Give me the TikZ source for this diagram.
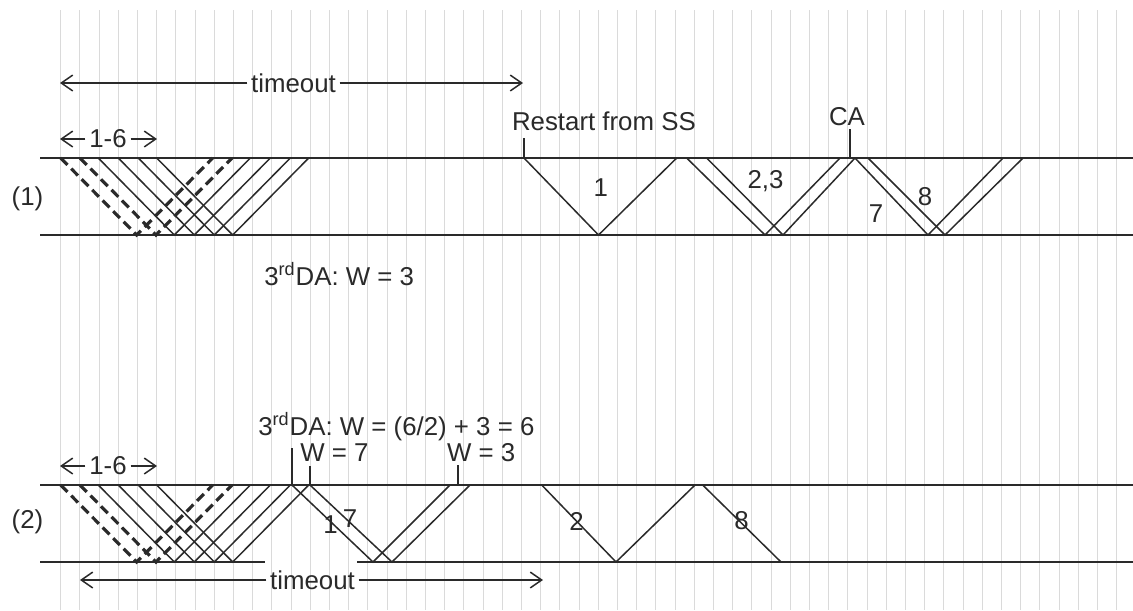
\documentclass[tikz,border=0pt]{standalone}
\usepackage{fontspec}
\setmainfont{Liberation Sans}
\usetikzlibrary{arrows.meta}
\definecolor{ink}{HTML}{2A2A2A}
\definecolor{gridgray}{HTML}{DADADA}
\tikzset{
	wire/.style={draw=ink,line width=0.85pt},
	lost/.style={draw=ink,line width=1.8pt,dash pattern=on 5.5pt off 3pt},
	gridline/.style={draw=gridgray,line width=0.55pt},
	span/.style={draw=ink,line width=0.85pt,-{Straight Barb[length=6.5pt,width=9pt]}},
	lbl/.style={text=ink,inner sep=0pt,font=\fontsize{14.7}{17}\selectfont},
	spanlbl/.style={lbl,inner xsep=2pt},
}
\begin{document}
\begin{tikzpicture}[x=0.02cm,y=-0.02cm]
	\useasboundingbox[fill=white] (0,0) rectangle (1133,610);
	\foreach \k in {0,...,55}
		\draw[gridline] ({60.7+19.2*\k},10) -- ({60.7+19.2*\k},610);
	\draw[wire] (40,158) -- (1133,158);
	\draw[wire] (40,235) -- (1133,235);
	\draw[wire] (40,485) -- (1133,485);
	\draw[wire] (40,562) -- (265,562);
	\draw[wire] (357,562) -- (1133,562);
	\foreach \ya/\yb in {158/235,485/562}{
		\foreach \x in {60.7,80}
			\draw[lost] (\x,\ya) -- (\x+76,\yb) -- (\x+152,\ya);
		\foreach \x in {98.3,118.3,138.3,156.7}
			\draw[wire] (\x,\ya) -- (\x+76,\yb) -- (\x+152,\ya);
	}
	% (1)
	\draw[wire] (524,158) -- (598.5,235) -- (676.7,158);
	\draw[wire] (686.7,158) -- (765,235) -- (840,158);
	\draw[wire] (706.7,158) -- (783,235) -- (855,158);
	\draw[wire] (855,158) -- (928,235) -- (1003,158);
	\draw[wire] (868,158) -- (945,235) -- (1023,158);
	\node[lbl] (row1) at (27.5,199) {(1)};
	\node[spanlbl] (tmo1) at (293.5,83) {timeout};
	\coordinate (tmo1l) at (60,83);
	\coordinate (tmo1r) at (523,83);
	\draw[span] (tmo1.west) -- (tmo1l);
	\draw[span] (tmo1.east) -- (tmo1r);
	\node[spanlbl] (pk1) at (108,139) {1-6};
	\coordinate (pk1l) at (60,139);
	\coordinate (pk1r) at (157,139);
	\draw[span] (pk1.west) -- (pk1l);
	\draw[span] (pk1.east) -- (pk1r);
	\node[lbl,anchor=base west] (restart) at (511.7,130) {Restart from SS};
	\coordinate (restartpt) at (524,158);
	\draw[wire] (restartpt) -- ++(0,-20);
	\node[lbl,anchor=base] (ca) at (847,125) {CA};
	\coordinate (capt) at (850,158);
	\draw[wire] (capt) -- ++(0,-29);
	\node[lbl] (seg1) at (600.7,188) {1};
	\node[lbl,anchor=base] (seg23) at (765.5,188) {2,3};
	\node[lbl] (seg7) at (876,213.5) {7};
	\node[lbl] (seg8) at (925,196.5) {8};
	\node[lbl,anchor=base west] (da1) at (264,285) {3\textsuperscript{rd}DA: W = 3};
	% (2)
	\draw[wire] (292,485) -- (373,562) -- (450,485);
	\draw[wire] (310,485) -- (392,562) -- (470,485);
	\draw[wire] (541.7,485) -- (616,562) -- (695,485);
	\draw[wire] (702.7,485) -- (781,562);
	\node[lbl] (row2) at (27.5,522) {(2)};
	\node[spanlbl] (pk2) at (108,466) {1-6};
	\coordinate (pk2l) at (60,466);
	\coordinate (pk2r) at (157,466);
	\draw[span] (pk2.west) -- (pk2l);
	\draw[span] (pk2.east) -- (pk2r);
	\node[lbl,anchor=base west] (da2) at (258,435) {3\textsuperscript{rd}DA: W = (6/2) + 3 = 6};
	\node[lbl,anchor=base west] (wsev) at (300,461.7) {W = 7};
	\node[lbl,anchor=base west] (wthr) at (446.7,461.7) {W = 3};
	\coordinate (wsevpt) at (292,485);
	\coordinate (winpt) at (310,485);
	\coordinate (wthrpt) at (458,485);
	\draw[wire] (wsevpt) -- ++(0,-37);
	\draw[wire] (winpt) -- ++(0,-19);
	\draw[wire] (wthrpt) -- ++(0,-20);
	\node[lbl] (seg1b) at (330.5,524.5) {1};
	\node[lbl] (seg7b) at (350,519) {7};
	\node[lbl] (seg2b) at (576.5,521) {2};
	\node[lbl] (seg8b) at (741.5,521) {8};
	\node[spanlbl] (tmo2) at (312.5,580) {timeout};
	\coordinate (tmo2l) at (80,580);
	\coordinate (tmo2r) at (543,580);
	\draw[span] (tmo2.west) -- (tmo2l);
	\draw[span] (tmo2.east) -- (tmo2r);
\end{tikzpicture}
\end{document}
